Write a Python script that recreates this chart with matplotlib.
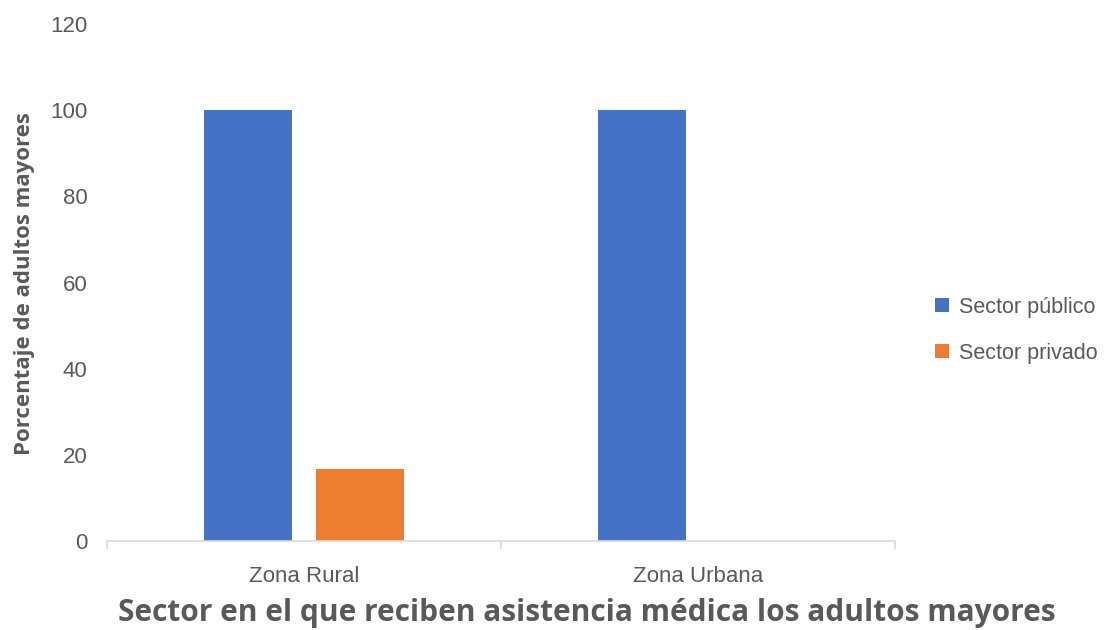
import numpy as np
import matplotlib.pyplot as plt

zonas = ["Zona Rural", "Zona Urbana"]
series = ["Sector público", "Sector privado"]
publico = [100, 100]
privado = [16.67, 0]
colores = ["#4472C4", "#ED7D31"]
yticks = [0, 20, 40, 60, 80, 100, 120]

gris = "#595959"

fig = plt.figure(figsize=(11.04, 6.3), dpi=100)
ax = fig.add_axes([0.097, 0.141, 0.714, 0.821])

x = np.arange(len(zonas))
ancho = 0.223
desp = 0.142
ax.bar(x - desp, publico, ancho, color=colores[0], label=series[0])
ax.bar(x + desp, privado, ancho, color=colores[1], label=series[1])

ax.set_xlim(-0.5, len(zonas) - 0.5)
ax.set_ylim(0, 120)
ax.set_yticks(yticks)
ax.tick_params(axis="y", length=0, pad=14, labelsize=16, labelcolor=gris)
for t in ax.get_yticklabels():
    t.set_family("Liberation Sans")

# ticks del eje x en los bordes de cada categoría
ax.set_xticks(x)
ax.set_xticklabels(zonas, family="Liberation Sans", fontsize=16, color=gris)
ax.tick_params(axis="x", length=0, pad=18)
ax.set_xticks(np.arange(len(zonas) + 1) - 0.5, minor=True)
ax.tick_params(axis="x", which="minor", length=6, color="#D9D9D9", width=1.2)

for lado in ["top", "right", "left"]:
    ax.spines[lado].set_visible(False)
ax.spines["bottom"].set_color("#D9D9D9")
ax.spines["bottom"].set_linewidth(1.2)

ax.set_ylabel("Porcentaje de adultos mayores", family="Open Sans", fontweight="bold",
              fontsize=16, color=gris)
ax.yaxis.set_label_coords(-0.091, 0.498)
ax.set_xlabel("Sector en el que reciben asistencia médica los adultos mayores",
              family="Open Sans", fontweight="bold", fontsize=21.5, color=gris)
ax.xaxis.set_label_coords(0.609, -0.110)

ax.legend(loc="center left", bbox_to_anchor=(1.026, 0.408), frameon=False,
          prop={"family": "Liberation Sans", "size": 15.5}, labelcolor=gris,
          handlelength=0.65, handleheight=0.65, handletextpad=0.45, labelspacing=1.15)

fig.savefig("out.png", dpi=100)
